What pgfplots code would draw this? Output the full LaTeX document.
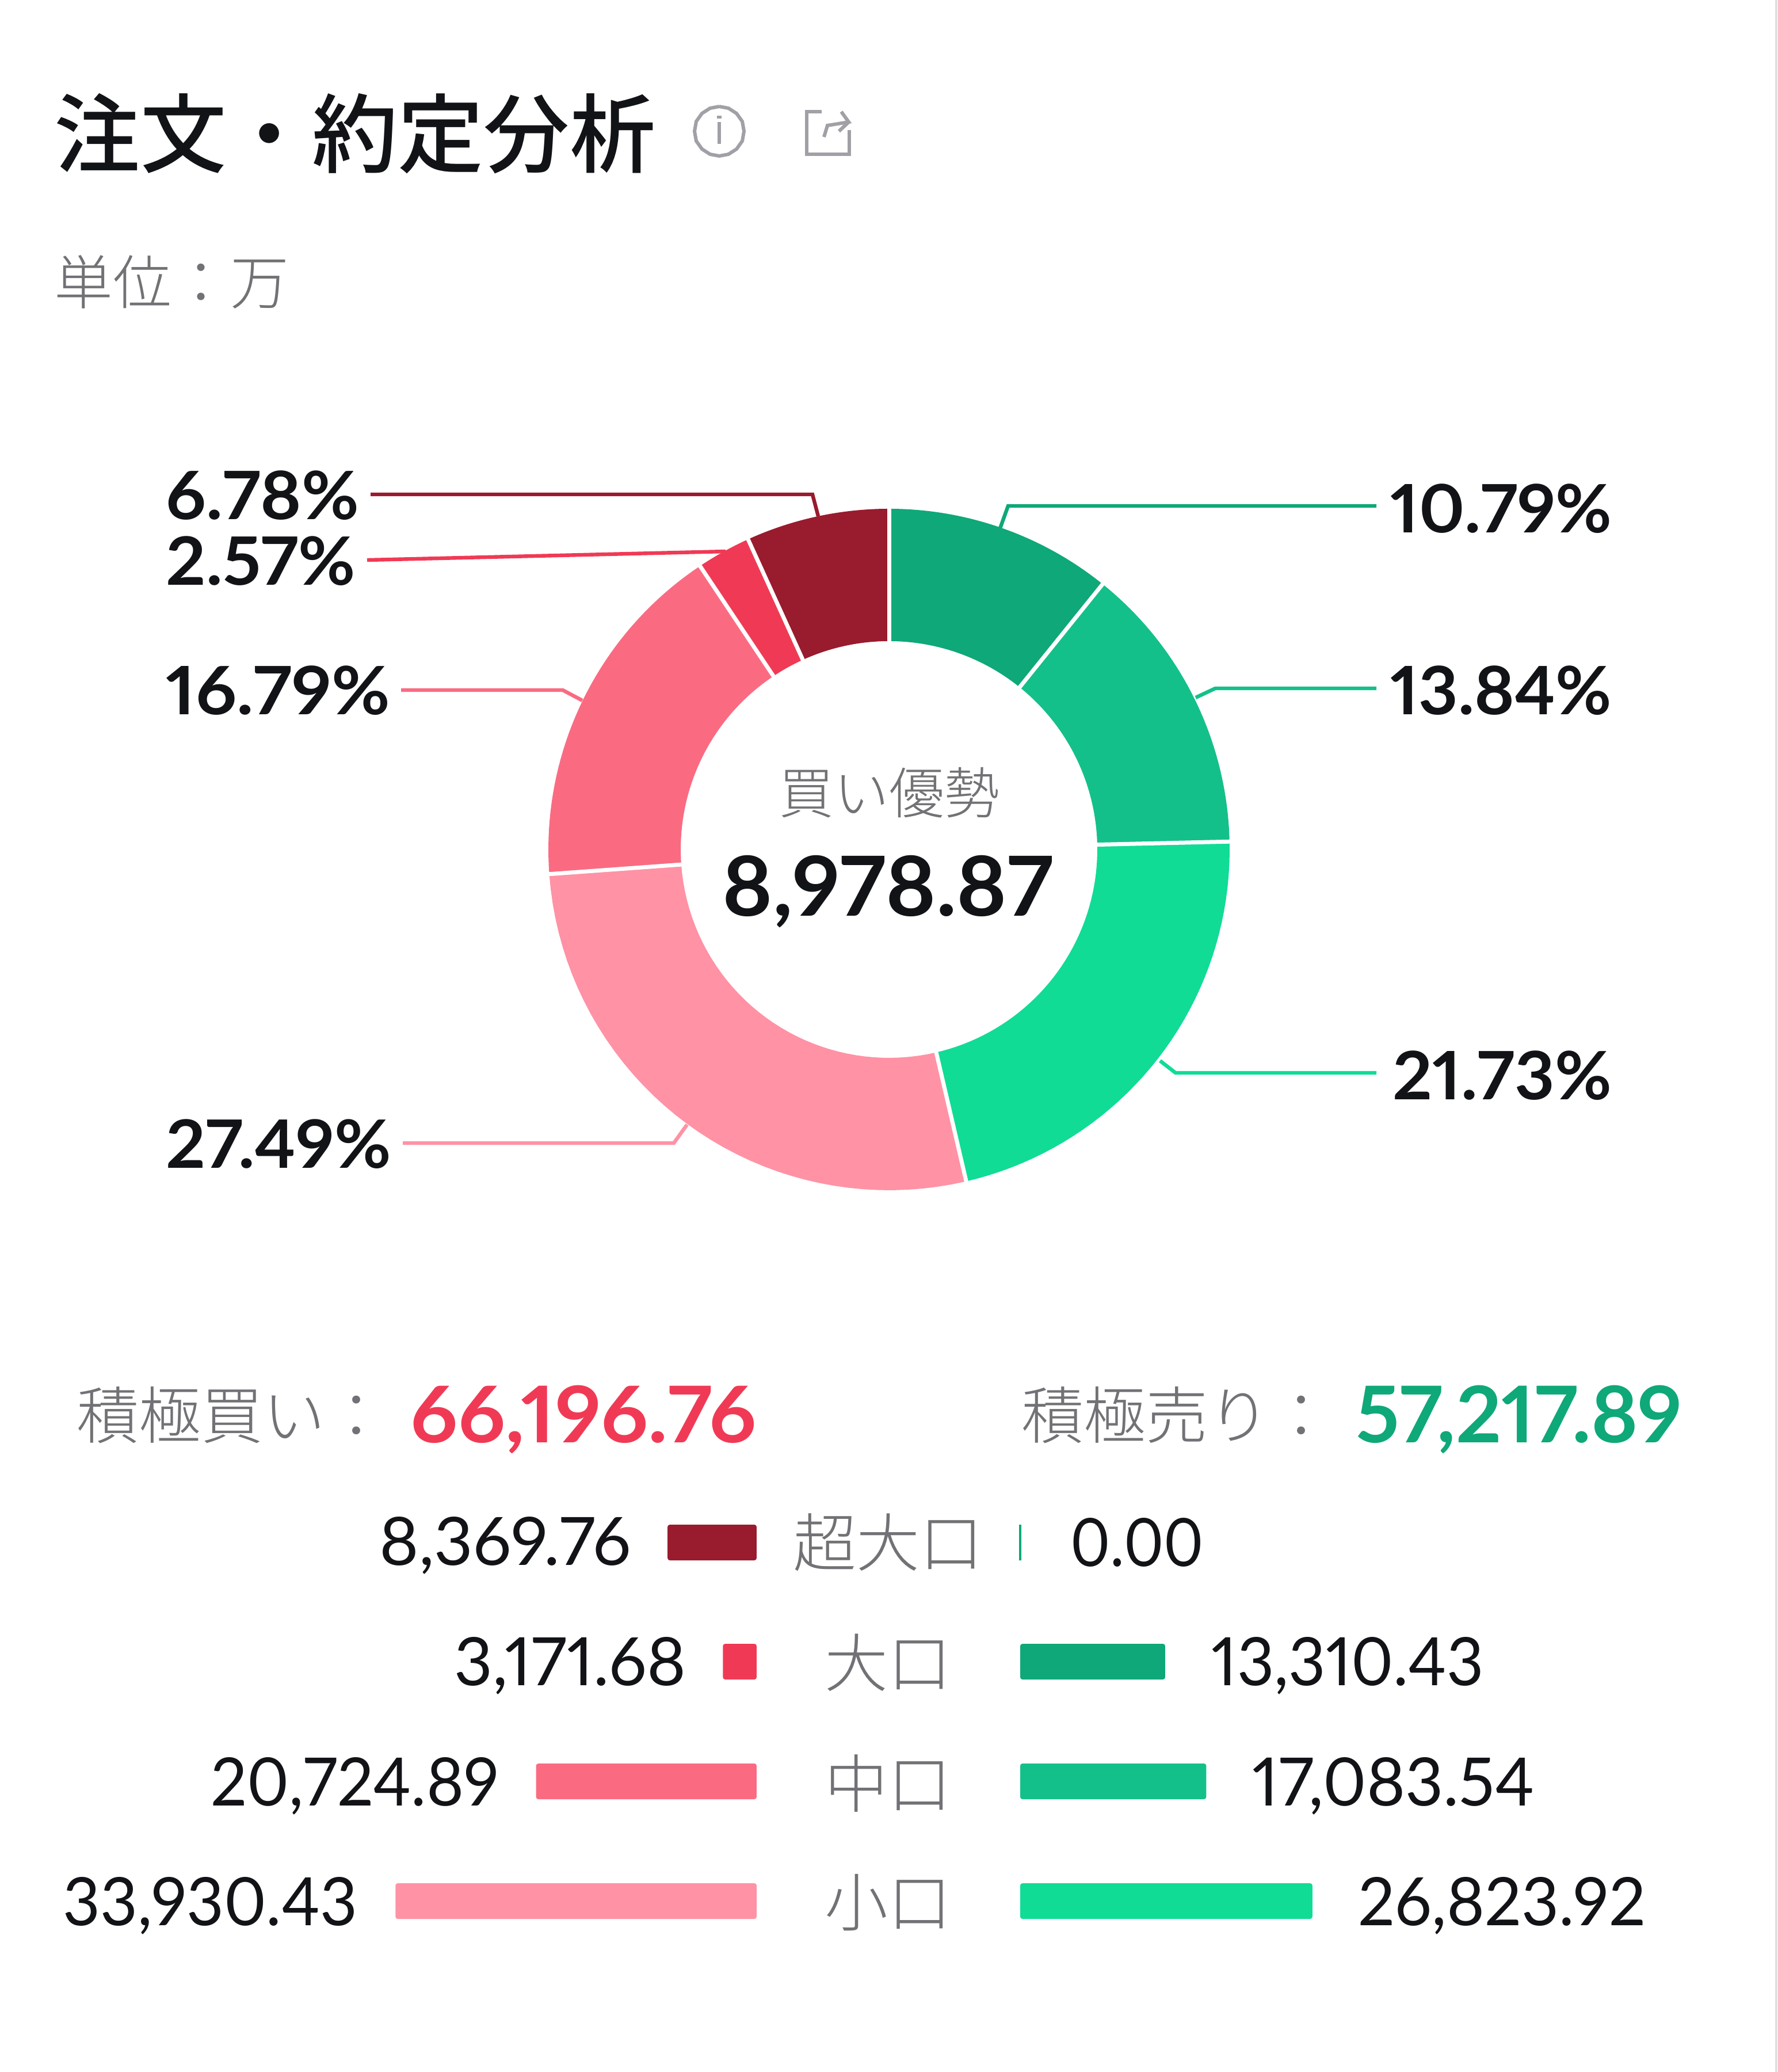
\documentclass[border=0pt]{standalone}
\usepackage{fontspec}
\usepackage{graphicx}
\usepackage{pgfplots}
\pgfplotsset{compat=1.18}
\usepgfplotslibrary{polar}
\setmainfont[Numbers=Proportional]{Lato}
\newfontfamily\jpl[UprightFont=* Light]{Noto Sans CJK JP}
\newfontfamily\jpm[UprightFont=* Medium]{Noto Sans CJK JP}
\definecolor{c1}{HTML}{0FA878}
\definecolor{c2}{HTML}{14C08A}
\definecolor{c3}{HTML}{10DC96}
\definecolor{c4}{HTML}{FF92A5}
\definecolor{c5}{HTML}{FA6B82}
\definecolor{c6}{HTML}{F03A55}
\definecolor{c7}{HTML}{991B2E}
\definecolor{ink}{HTML}{111316}
\definecolor{gr}{HTML}{727276}
\definecolor{ic}{HTML}{A0A0A6}
\newcommand\seg[3]{%
  \pgfmathsetmacro\sa{90-3.6*#1}\pgfmathsetmacro\sb{90-3.6*(#1+#2)}%
  \gdef\pts{}%
  \foreach \i in {0,...,40}{\pgfmathsetmacro\t{\sa+(\sb-\sa)*\i/40}\xdef\pts{\pts (\t,592)}}%
  \foreach \i in {40,39,...,0}{\pgfmathsetmacro\t{\sa+(\sb-\sa)*\i/40}\xdef\pts{\pts (\t,362)}}%
  \edef\tmp{\noexpand\addplot[fill=#3,draw=none,data cs=polar] coordinates {\pts};}\tmp
}
\newcommand\sep[1]{%
  \pgfmathsetmacro\sa{90-3.6*#1}%
  \edef\tmp{\noexpand\addplot[white,line width=1.75pt,data cs=polar] coordinates {(\sa,352) (\sa,602)};}\tmp
}
\newcommand\fs[1]{\fontsize{#1pt}{#1pt}\selectfont}
\newcommand\sx[2]{\scalebox{#1}[1]{#2}}
\pgfplotsset{base/.style={hide axis,scale only axis,clip=false,height=900pt}}
\begin{document}
\begin{tikzpicture}
\useasboundingbox (0,0) rectangle (772.5pt,900pt);
% donut
\begin{axis}[base,at={(0,0)},anchor=south west,width=772.5pt,
  xmin=-1545,xmax=1545,ymin=-2124,ymax=1476]
\seg{0}{10.79}{c1}
\seg{10.79}{13.84}{c2}
\seg{24.63}{21.73}{c3}
\seg{46.36}{27.49}{c4}
\seg{73.85}{16.79}{c5}
\seg{90.64}{2.57}{c6}
\seg{93.21}{6.79}{c7}
\sep{0}\sep{10.79}\sep{24.63}\sep{46.36}\sep{73.85}\sep{90.64}\sep{93.21}
\end{axis}
% page coordinates: leaders and texts
\begin{axis}[base,at={(0,0)},anchor=south west,width=772.5pt,
  xmin=0,xmax=3090,ymin=0,ymax=3600,y dir=reverse]
\addplot[c7,line width=1.6pt] coordinates {(644,859) (1412,859) (1422,897)};
\addplot[c6,line width=1.6pt] coordinates {(638,973) (1261,958)};
\addplot[c5,line width=1.6pt] coordinates {(697,1199) (978,1199) (1012,1217)};
\addplot[c4,line width=1.6pt] coordinates {(700,1986) (1171,1986) (1194,1954)};
\addplot[c1,line width=1.6pt] coordinates {(2392,879) (1752,879) (1738,918)};
\addplot[c2,line width=1.6pt] coordinates {(2392,1196) (2112,1196) (2078,1212)};
\addplot[c3,line width=1.6pt] coordinates {(2392,1864) (2043,1864) (2016,1843)};
\addplot[color=black!12,line width=1pt] coordinates {(3087,0) (3087,3600)};
% icons
\addplot[ic,line width=1.5pt] coordinates {(1250,185) (1266,188) (1280,197) (1290,211) (1293,228) (1290,245) (1280,259) (1266,268) (1250,271) (1234,268) (1220,259) (1210,245) (1207,228) (1210,211) (1220,197) (1234,188) (1250,185)};
\addplot[ic,line width=1.6pt] coordinates {(1250,212) (1250,250)};
\addplot[ic,line width=1.8pt] coordinates {(1250,201) (1250,206)};
\addplot[ic,line width=1.5pt] coordinates {(1428,194) (1402,194) (1402,268) (1476,268) (1476,226)};
\addplot[ic,line width=1.5pt] coordinates {(1432,238) (1438,218) (1475,212) (1462,194)};
\addplot[ic,line width=1.5pt] coordinates {(1475,212) (1458,228)};
% title
\node[anchor=west,inner sep=0,text=ink] at (axis cs:94,232) {\jpm\fs{37.3}注文・約定分析};
\node[anchor=west,inner sep=0,text=gr] at (axis cs:94,490) {\jpl\fs{25.5}単位：万};
% centre
\node[inner sep=0,text=gr] at (axis cs:1545,1377) {\jpl\fs{24}買い優勢};
\node[inner sep=0,text=ink] at (axis cs:1543,1549) {\bfseries\fs{36}\sx{1.033}{8,978.87}};
% percentages
\node[anchor=west,inner sep=0,text=ink] at (axis cs:288,861) {\bfseries\fs{29}\sx{1.05}{6.78\%}};
\node[anchor=west,inner sep=0,text=ink] at (axis cs:288,975) {\bfseries\fs{29}\sx{1.045}{2.57\%}};
\node[anchor=west,inner sep=0,text=ink] at (axis cs:288,1200) {\bfseries\fs{29}\sx{1.07}{16.79\%}};
\node[anchor=west,inner sep=0,text=ink] at (axis cs:288,1988) {\bfseries\fs{29}\sx{1.037}{27.49\%}};
\node[anchor=east,inner sep=0,text=ink] at (axis cs:2802,884) {\bfseries\fs{29}\sx{1.03}{10.79\%}};
\node[anchor=east,inner sep=0,text=ink] at (axis cs:2802,1200) {\bfseries\fs{29}\sx{1.025}{13.84\%}};
\node[anchor=east,inner sep=0,text=ink] at (axis cs:2802,1869) {\bfseries\fs{29}\sx{1.04}{21.73\%}};
% totals
\node[anchor=west,inner sep=0,text=gr] at (axis cs:133,2459) {\jpl\fs{27}積極買い：};
\node[anchor=west,inner sep=0,text=c6] at (axis cs:713,2466) {\bfseries\fs{34}\sx{1.055}{66,196.76}};
\node[anchor=west,inner sep=0,text=gr] at (axis cs:1775,2459) {\jpl\fs{27}積極売り：};
\node[anchor=west,inner sep=0,text=c1] at (axis cs:2356,2466) {\bfseries\fs{34}\sx{1.02}{57,217.89}};
% table
\node[anchor=east,inner sep=0,text=ink] at (axis cs:1097,2685) {\fs{29}\sx{1.01}{8,369.76}};
\node[anchor=east,inner sep=0,text=ink] at (axis cs:1193,2894) {\fs{29}3,171.68};
\node[anchor=east,inner sep=0,text=ink] at (axis cs:868,3103) {\fs{29}\sx{0.96}{20,724.89}};
\node[anchor=east,inner sep=0,text=ink] at (axis cs:622,3311) {\fs{29}\sx{0.97}{33,930.43}};
\node[inner sep=0,text=gr] at (axis cs:1543,2680) {\jpl\fs{27.5}超大口};
\node[inner sep=0,text=gr] at (axis cs:1543,2889) {\jpl\fs{27.5}大口};
\node[inner sep=0,text=gr] at (axis cs:1543,3098) {\jpl\fs{27.5}中口};
\node[inner sep=0,text=gr] at (axis cs:1543,3306) {\jpl\fs{27.5}小口};
\node[anchor=west,inner sep=0,text=ink] at (axis cs:1860,2680) {\fs{29}\sx{0.91}{0.00}};
\node[anchor=west,inner sep=0,text=ink] at (axis cs:2105,2894) {\fs{29}\sx{0.963}{13,310.43}};
\node[anchor=west,inner sep=0,text=ink] at (axis cs:2176,3103) {\fs{29}\sx{0.99}{17,083.54}};
\node[anchor=west,inner sep=0,text=ink] at (axis cs:2360,3311) {\fs{29}\sx{0.973}{26,823.92}};
\end{axis}
% buy bars: value axis runs leftwards from x=1315 px
\begin{axis}[base,at={(0,0)},anchor=south west,width=328.75pt,
  xbar,bar width=15.5pt,bar shift=0pt,x dir=reverse,
  xmin=0,xmax=71081,ymin=0,ymax=3600,y dir=reverse]
\addplot[fill=c7,draw=none,rounded corners=1pt] coordinates {(8369.76,2680)};
\addplot[fill=c6,draw=none,rounded corners=1pt] coordinates {(3171.68,2887)};
\addplot[fill=c5,draw=none,rounded corners=1pt] coordinates {(20724.89,3095)};
\addplot[fill=c4,draw=none,rounded corners=1pt] coordinates {(33930.43,3303)};
\end{axis}
% sell bars: value axis runs rightwards from x=1773 px
\begin{axis}[base,at={(443.25pt,0)},anchor=south west,width=329.25pt,
  xbar,bar width=15.5pt,bar shift=0pt,
  xmin=0,xmax=69572,ymin=0,ymax=3600,y dir=reverse]
\addplot[fill=c1,draw=c1,line width=1.2pt] coordinates {(0,2680)};
\addplot[fill=c1,draw=none,rounded corners=1pt] coordinates {(13310.43,2887)};
\addplot[fill=c2,draw=none,rounded corners=1pt] coordinates {(17083.54,3095)};
\addplot[fill=c3,draw=none,rounded corners=1pt] coordinates {(26823.92,3303)};
\end{axis}
\end{tikzpicture}
\end{document}
